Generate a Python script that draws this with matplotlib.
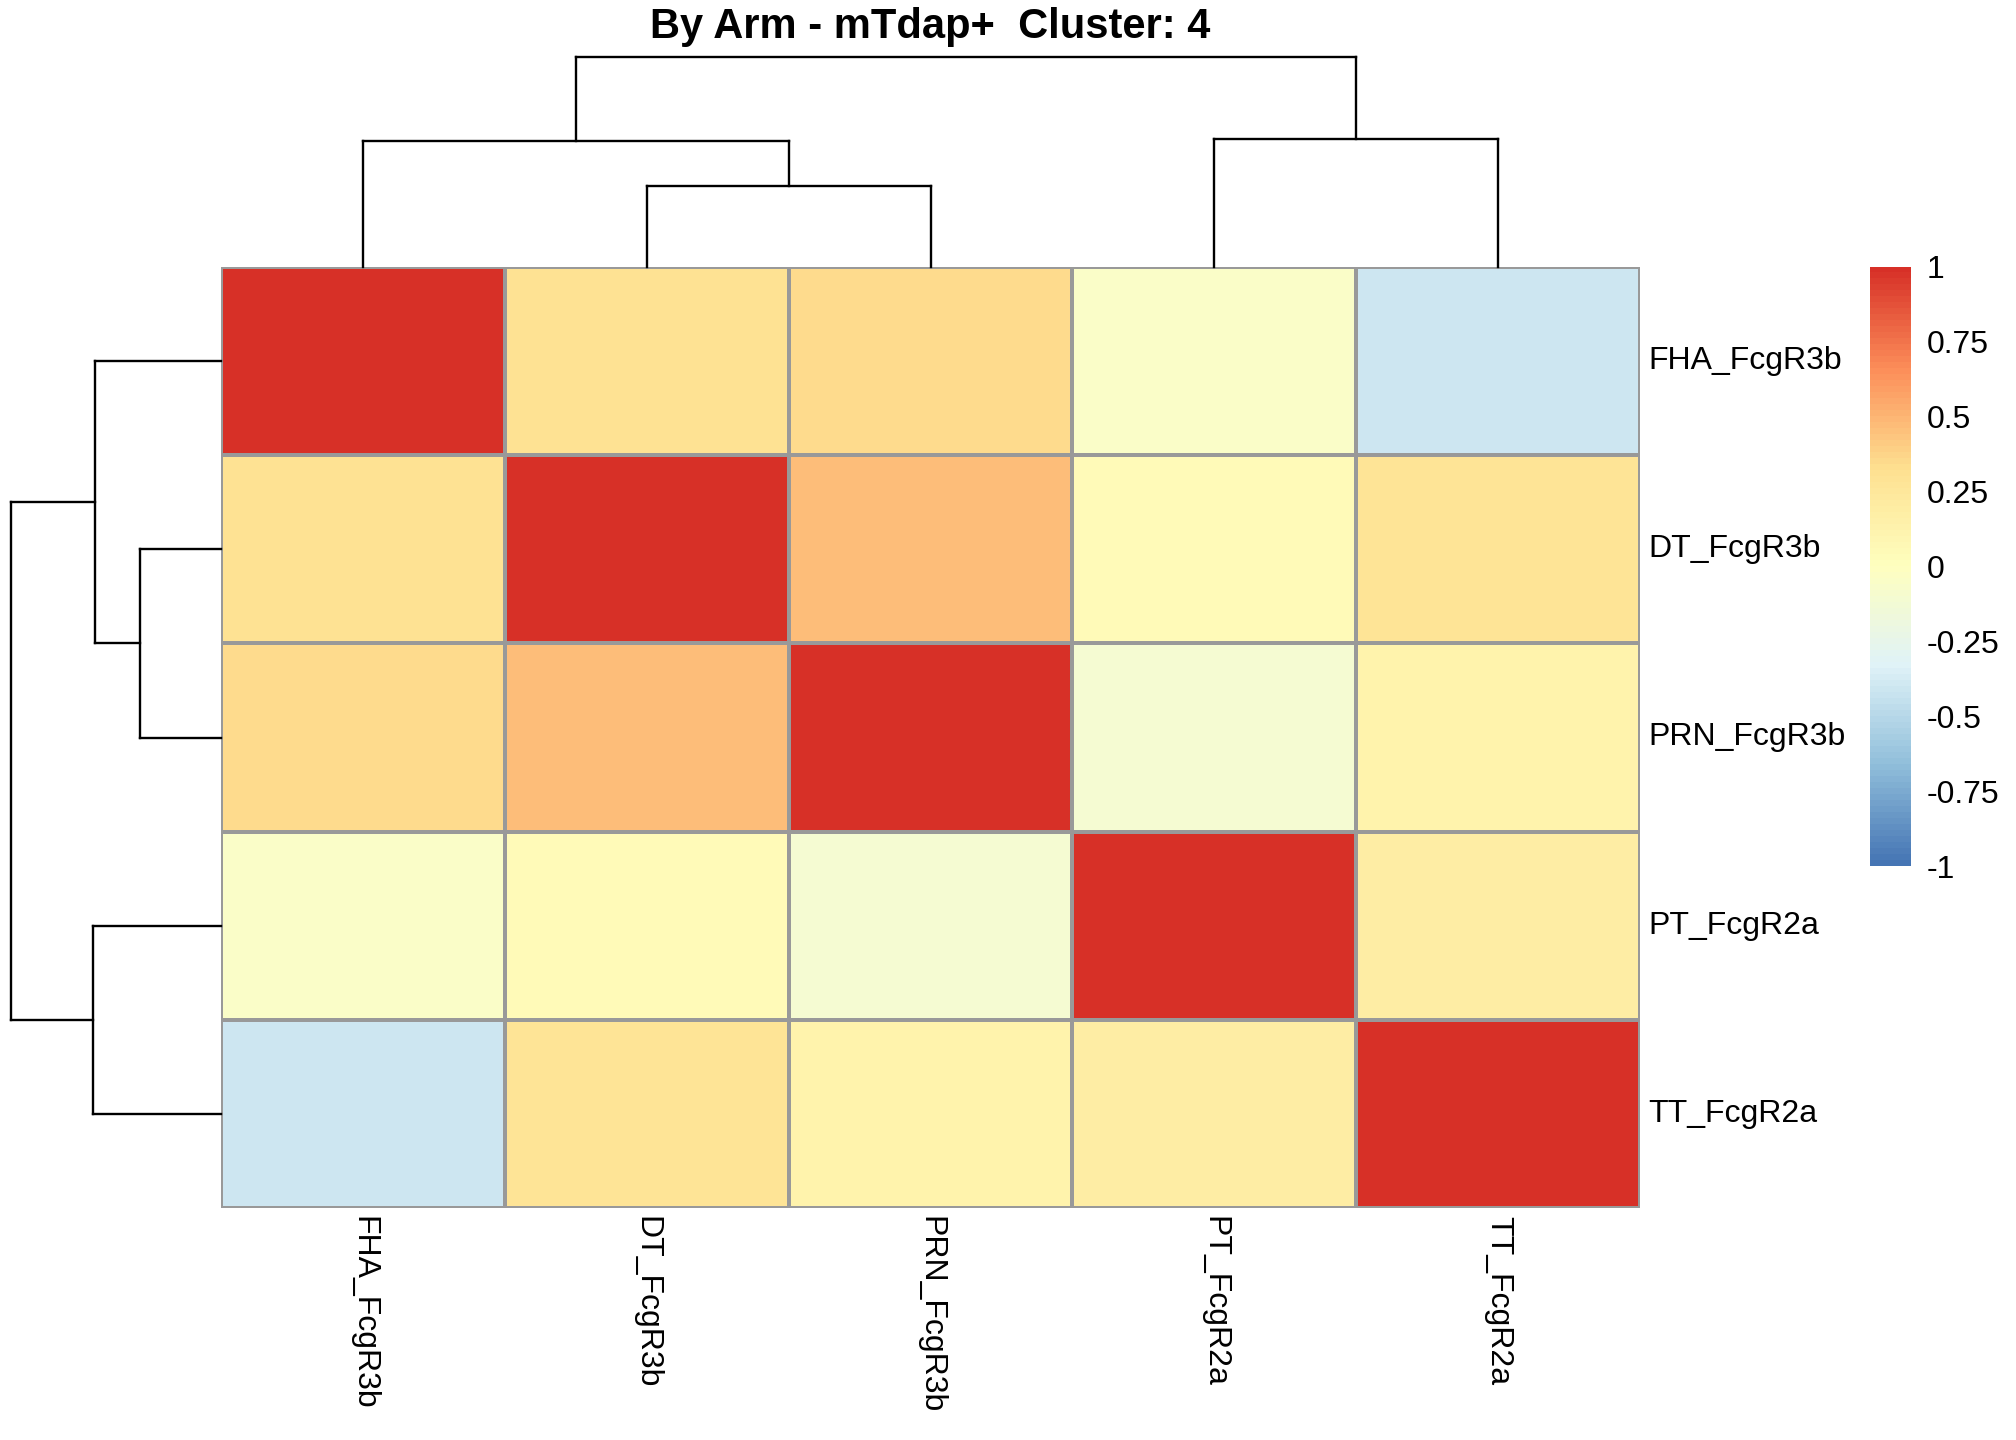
import matplotlib
matplotlib.use("Agg")
import matplotlib.pyplot as plt
from matplotlib.colors import LinearSegmentedColormap, Normalize
import numpy as np

plt.rcParams["font.family"] = ["Liberation Sans", "DejaVu Sans"]

# data
labels = ["FHA_FcgR3b", "DT_FcgR3b", "PRN_FcgR3b", "PT_FcgR2a", "TT_FcgR2a"]
corr = [
    [1.00, 0.30, 0.34, -0.06, -0.42],
    [0.30, 1.00, 0.47, 0.04, 0.28],
    [0.34, 0.47, 1.00, -0.11, 0.12],
    [-0.06, 0.04, -0.11, 1.00, 0.18],
    [-0.42, 0.28, 0.12, 0.18, 1.00],
]
# merges: (child a, child b, height); new node ids continue after the leaves
merges = [(1, 2, 0.384), (0, 5, 0.600), (3, 4, 0.610), (6, 7, 1.000)]
tick_vals = [1, 0.75, 0.5, 0.25, 0, -0.25, -0.5, -0.75, -1]
tick_text = ["1", "0.75", "0.5", "0.25", "0", "-0.25", "-0.5", "-0.75", "-1"]
title = "By Arm - mTdap+  Cluster: 4"

# pheatmap default palette: rev(RdYlBu 7) ramped to 100
ramp = ["#4575B4", "#91BFDB", "#E0F3F8", "#FFFFBF", "#FEE090", "#FC8D59", "#D73027"]
cmap = LinearSegmentedColormap.from_list("phm", ramp, N=100)
norm = Normalize(-1, 1)

W, H = 2016, 1440
fig = plt.figure(figsize=(W / 100, H / 100), dpi=100)


def box(x0, y0, x1, y1):
    # pixel box (top-left origin) -> figure fraction rect
    return [x0 / W, 1 - y1 / H, (x1 - x0) / W, (y1 - y0) / H]


hm_l, hm_t, hm_r, hm_b = 221, 267, 1640, 1208
n = len(labels)
mat = np.array(corr)
fs = 23

ax = fig.add_axes(box(hm_l, hm_t, hm_r, hm_b))
ax.pcolormesh(np.arange(n + 1), np.arange(n + 1), mat, cmap=cmap, norm=norm,
              edgecolors="#999999", linewidth=1.6)
ax.set_xlim(0, n)
ax.set_ylim(n, 0)
ax.set_axis_off()

for i, lab in enumerate(labels):
    fig.text(1648 / W, 1 - (hm_t + (i + 0.5) * (hm_b - hm_t) / n) / H, lab,
             fontsize=fs, ha="left", va="center")
    fig.text((hm_l + (i + 0.5) * (hm_r - hm_l) / n) / W, 1 - 1216 / H, lab,
             fontsize=fs, ha="center", va="top", rotation=270)


def dendro_segments():
    pos = {i: i + 0.5 for i in range(n)}
    hgt = {i: 0.0 for i in range(n)}
    segs = []
    for k, (a, b, h) in enumerate(merges):
        segs.append(((pos[a], hgt[a]), (pos[a], h)))
        segs.append(((pos[b], hgt[b]), (pos[b], h)))
        segs.append(((pos[a], h), (pos[b], h)))
        node = n + k
        pos[node] = (pos[a] + pos[b]) / 2
        hgt[node] = h
    return segs


top_h = max(m[2] for m in merges)
segs = dendro_segments()

axt = fig.add_axes(box(hm_l, 57, hm_r, hm_t))
for (x0, y0), (x1, y1) in segs:
    axt.plot([x0, x1], [y0, y1], color="black", lw=1.7, clip_on=False,
             solid_capstyle="projecting")
axt.set_xlim(0, n)
axt.set_ylim(0, top_h)
axt.set_axis_off()

axl = fig.add_axes(box(11, hm_t, hm_l, hm_b))
for (x0, y0), (x1, y1) in segs:
    axl.plot([y0, y1], [x0, x1], color="black", lw=1.7, clip_on=False,
             solid_capstyle="projecting")
axl.set_xlim(top_h, 0)
axl.set_ylim(n, 0)
axl.set_axis_off()

cax = fig.add_axes(box(1870, hm_t, 1910, 866))
grad = np.linspace(-1, 1, 100).reshape(-1, 1)
cax.imshow(grad, cmap=cmap, norm=norm, aspect="auto", origin="lower",
           extent=[0, 1, -1, 1])
cax.set_xlim(0, 1)
cax.set_ylim(-1, 1)
cax.set_xticks([])
cax.yaxis.tick_right()
cax.set_yticks(tick_vals)
cax.set_yticklabels(tick_text, fontsize=fs)
cax.tick_params(axis="y", length=0, pad=12)
for sp in cax.spines.values():
    sp.set_visible(False)

fig.text((hm_l + hm_r) / 2 / W, 1 - 27 / H, title, fontsize=30,
         fontweight="bold", ha="center", va="center")

fig.savefig("out.png", dpi=100)
